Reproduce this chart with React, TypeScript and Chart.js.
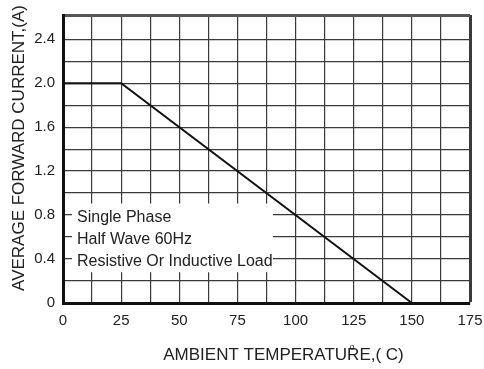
import React, { useEffect, useRef } from "react";
import { Chart, registerables } from "chart.js";

Chart.register(...registerables);

const temperatures = [0, 25, 150];
const currents = [2.0, 2.0, 0];
const xTitle = "AMBIENT TEMPERATURE,( C)";
const degreeMark = "o";
const yTitle = "AVERAGE FORWARD CURRENT,(A)";
const noteLines = ["Single Phase", "Half Wave 60Hz", "Resistive Or Inductive Load"];

const FONT = "'Liberation Sans', Arial, Helvetica, sans-serif";

const overlayPlugin = {
  id: "overlay",
  beforeDatasetsDraw(chart: any) {
    const { ctx, scales } = chart;
    const x = scales.x;
    const y = scales.y;
    const left = x.getPixelForValue(0) + 9;
    const right = x.getPixelForValue(90.3);
    const top = y.getPixelForValue(0.9) - 0.5;
    const bottom = y.getPixelForValue(0.28);
    ctx.save();
    ctx.fillStyle = "#ffffff";
    ctx.fillRect(left, top, right - left, bottom - top);
    ctx.fillStyle = "#222222";
    ctx.font = `16px ${FONT}`;
    ctx.textBaseline = "middle";
    ctx.textAlign = "left";
    const vals = [0.8, 0.6, 0.4];
    noteLines.forEach((t, i) => {
      ctx.fillText(t, left + 5, y.getPixelForValue(vals[i]) + 3);
    });
    ctx.restore();
  },
  afterDraw(chart: any) {
    const { ctx } = chart;
    ctx.save();
    ctx.fillStyle = "#222222";
    ctx.font = `17px ${FONT}`;
    ctx.textAlign = "center";
    ctx.textBaseline = "middle";
    ctx.fillText(xTitle, 283.5, 355);
    ctx.font = `9px ${FONT}`;
    ctx.fillText(degreeMark, 352, 348);
    ctx.translate(19, 148);
    ctx.rotate(-Math.PI / 2);
    ctx.font = `17px ${FONT}`;
    ctx.fillText(yTitle, 0, 0);
    ctx.restore();
  },
};

export default function App() {
  const ref = useRef<HTMLCanvasElement | null>(null);
  useEffect(() => {
    if (!ref.current) return;
    const chart = new Chart(ref.current, {
      type: "line",
      data: {
        datasets: [
          {
            data: temperatures.map((t, i) => ({ x: t, y: currents[i] })),
            borderColor: "#111111",
            borderWidth: 2,
            pointRadius: 0,
            tension: 0,
            clip: false,
          },
        ],
      },
      options: {
        animation: false,
        responsive: true,
        maintainAspectRatio: false,
        layout: { autoPadding: false, padding: { top: 15, right: 14, left: 0, bottom: 0 } },
        plugins: { legend: { display: false }, tooltip: { enabled: false } },
        scales: {
          x: {
            type: "linear",
            min: 0,
            max: 175,
            afterFit: (s: any) => {
              s.height = 66;
              s.paddingLeft = 0;
              s.paddingRight = 0;
            },
            ticks: {
              stepSize: 12.5,
              autoSkip: false,
              maxRotation: 0,
              padding: 9,
              color: "#222222",
              font: { family: FONT, size: 15 },
              callback: (v: any) => (Number(v) % 25 === 0 ? String(v) : ""),
            },
            grid: {
              drawTicks: false,
              color: "#3a3a3a",
              lineWidth: (c: any) => (c.tick && c.tick.value === 175 ? 3 : 1.2),
            },
            border: { display: true, color: "#111111", width: 3 },
          },
          y: {
            type: "linear",
            min: 0,
            max: 2.62,
            afterFit: (s: any) => {
              s.width = 63;
              s.paddingTop = 0;
              s.paddingBottom = 0;
            },
            ticks: {
              stepSize: 0.2,
              autoSkip: false,
              padding: 8,
              color: "#222222",
              font: { family: FONT, size: 15 },
              callback: (v: any) => {
                const n = Number(v);
                const r = Math.round(n * 10);
                if (Math.abs(n * 10 - r) > 0.01 || r % 4 !== 0) return "";
                return r === 0 ? "0" : (r / 10).toFixed(1);
              },
            },
            grid: {
              drawTicks: false,
              color: (c: any) => (c.tick && c.tick.value > 2.5 ? "#555555" : "#3a3a3a"),
              lineWidth: (c: any) => (c.tick && c.tick.value > 2.5 ? 3 : 1.2),
            },
            border: { display: true, color: "#111111", width: 3 },
          },
        },
      },
      plugins: [overlayPlugin],
    });
    return () => chart.destroy();
  }, []);
  return (
    <div style={{ position: "fixed", left: 0, top: 0, width: 484, height: 369, background: "#fff" }}>
      <canvas ref={ref} />
    </div>
  );
}
